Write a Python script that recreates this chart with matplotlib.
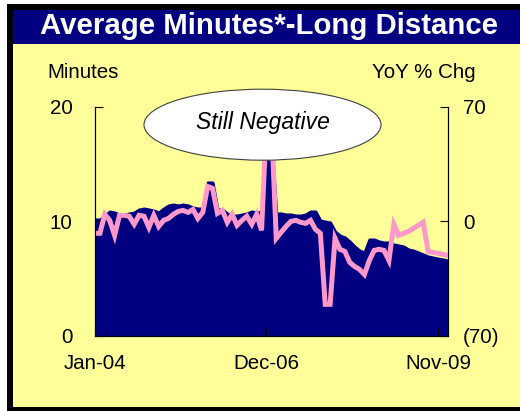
import matplotlib
matplotlib.use("Agg")
import matplotlib.pyplot as plt
from matplotlib.patches import Rectangle, Ellipse
import numpy as np
import pandas as pd

plt.rcParams['font.family'] = ['Liberation Sans', 'DejaVu Sans']

# Monthly series, Jan-04 .. Jan-10
months = pd.date_range("2004-01-01", periods=73, freq="MS").strftime("%b-%y").tolist()

# Average long distance minutes (left axis)
minutes = [
    10.16, 10.16, 10.51, 10.86, 10.77, 10.60, 10.60, 10.69, 10.77, 11.04,
    11.12, 11.04, 10.95, 10.77, 11.12, 11.39, 11.47, 11.39, 11.47, 11.39,
    11.21, 11.12, 11.12, 13.40, 13.40, 11.04, 11.04, 10.69, 10.51, 10.51,
    10.60, 10.69, 10.86, 10.77, 10.86, 17.00, 17.00, 10.69, 10.69, 10.60,
    10.60, 10.51, 10.51, 10.60, 10.86, 10.86, 10.07, 9.98, 9.90, 9.11,
    8.76, 8.59, 8.24, 7.80, 7.45, 7.28, 8.41, 8.41, 8.24, 8.15,
    8.15, 7.98, 7.89, 7.80, 7.54, 7.45, 7.28, 7.10, 6.93, 6.84,
    6.75, 6.67, 6.58,
]

# Year over year % change (right axis)
yoy_chg = [
    -7.3, -7.3, 4.3, 0.6, -8.6, 3.7, 3.7, 3.1, -1.8, 3.7,
    3.1, -3.7, 3.7, -3.1, 0.6, 1.8, 4.3, 6.1, 6.7, 5.5,
    7.3, 1.8, 5.5, 21.4, 20.2, 4.9, 6.7, -0.6, 4.3, -2.4,
    0.6, 3.1, -1.8, 4.3, -5.5, 62.0, 62.0, -10.4, -6.7, -3.1,
    0.0, 0.6, -0.6, -1.2, 0.6, -4.9, -7.3, -50.8, -50.8, -10.4,
    -17.1, -18.4, -25.1, -27.6, -29.4, -32.5, -23.9, -17.8, -17.1, -17.8,
    -23.9, -1.8, -8.6, -7.3, -6.1, -4.3, -2.4, -0.6, -18.4, -19.0,
    -19.6, -20.2, -20.8,
]

x_ticks = [0, 35, 70]
left_ticks = [0, 10, 20]
right_ticks = [-70, 0, 70]
right_labels = ["(70)", "0", "70"]

NAVY = "#000080"
YELLOW = "#FFFF99"
PINK = "#FF99CC"

W, H = 520, 411
fig = plt.figure(figsize=(W / 100, H / 100), dpi=100, facecolor="white")

# frame, panel background and title bar (pixel boxes -> figure fractions)
def px_rect(x0, y0, x1, y1, **kw):
    return Rectangle((x0 / W, 1 - y1 / H), (x1 - x0) / W, (y1 - y0) / H,
                     transform=fig.transFigure, **kw)

fig.patches.append(px_rect(7, 4, 540, 420, facecolor="black", edgecolor="none", zorder=-3))
fig.patches.append(px_rect(13, 10, 520, 407, facecolor=YELLOW, edgecolor="none", zorder=-2))
fig.patches.append(px_rect(13, 10, 520, 44, facecolor=NAVY, edgecolor="none", zorder=-1))

fig.text(268.5 / W, 1 - 34.3 / H, "Average Minutes*-Long Distance", color="white",
         fontsize=21.2, fontweight="bold", ha="center", va="baseline")

ax = fig.add_axes([95 / W, 1 - 335.7 / H, 352.7 / W, 228.7 / H])
ax.set_facecolor(YELLOW)
x = np.arange(len(months))
ax.fill_between(x, 0, minutes, facecolor=NAVY, edgecolor=NAVY, linewidth=2.2,
                joinstyle="round")
ax.set_xlim(0, len(months) - 1)
ax.set_ylim(0, 20)
ax.set_xticks(x_ticks)
ax.set_xticklabels([months[i] for i in x_ticks])
ax.set_yticks(left_ticks)
ax.tick_params(axis="both", direction="in", length=5.5, width=0.8, labelsize=14.8,
               colors="black")
ax.tick_params(axis="x", pad=13)
ax.tick_params(axis="y", pad=16)
ax.spines["top"].set_visible(False)

ax2 = ax.twinx()
ax2.plot(x, yoy_chg, color=PINK, linewidth=3.6, solid_joinstyle="miter")
ax2.set_ylim(-70, 70)
ax2.set_yticks(right_ticks)
ax2.set_yticklabels(right_labels)
ax2.tick_params(axis="y", direction="in", length=5.5, width=0.8, labelsize=14.8, pad=11)
ax2.spines["top"].set_visible(False)

fig.text(47 / W, 1 - 77.5 / H, "Minutes", fontsize=14.8, ha="left", va="baseline")
fig.text(476 / W, 1 - 77.5 / H, "YoY % Chg", fontsize=14.8, ha="right", va="baseline")

# callout
fig.patches.append(Ellipse((262.5 / W, 1 - 124.7 / H), 237 / W, 71 / H,
                           transform=fig.transFigure, facecolor="white",
                           edgecolor="#404040", linewidth=0.8, zorder=5))
fig.text(263 / W, 1 - 129.3 / H, "Still Negative", fontsize=16.5, style="italic",
         ha="center", va="baseline", zorder=6)

fig.savefig("out.png", dpi=100, facecolor=fig.get_facecolor())
